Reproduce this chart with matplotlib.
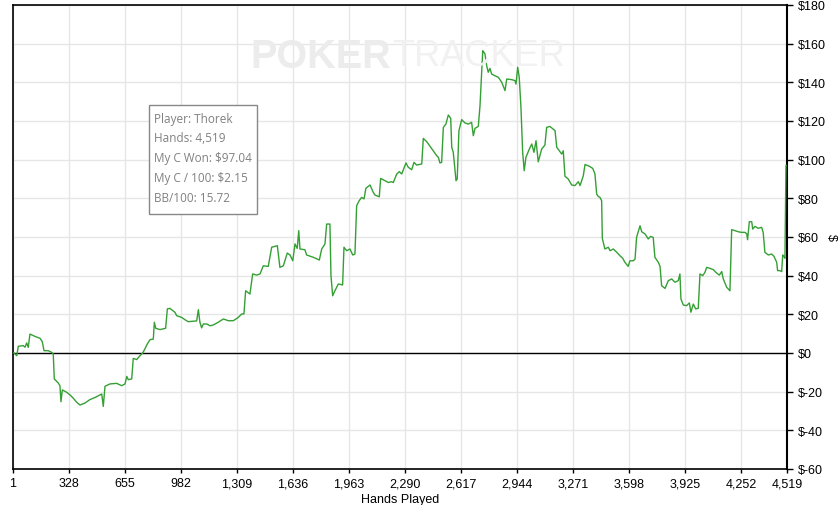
import matplotlib
matplotlib.use("Agg")
import matplotlib.pyplot as plt
from matplotlib.patches import Rectangle
from matplotlib.ticker import FuncFormatter

plt.rcParams['font.family'] = ['Liberation Sans', 'DejaVu Sans']

# hands played vs. cumulative winnings ($)
hands = [1, 7, 23, 32, 61, 71, 81, 90, 100, 129, 159, 172, 182, 207, 227, 236,
         242, 265, 275, 281, 289, 314, 334, 353, 373, 392, 421, 450, 480, 499,
         519, 528, 538, 567, 606, 635, 655, 665, 674, 694, 703, 723, 742, 758,
         771, 785, 801, 820, 826, 834, 859, 892, 902, 917, 947, 956, 986, 1005,
         1024, 1073, 1083, 1092, 1102, 1112, 1132, 1151, 1170, 1199, 1229, 1258,
         1287, 1316, 1336, 1349, 1359, 1384, 1400, 1423, 1443, 1462, 1491, 1511,
         1544, 1559, 1579, 1602, 1618, 1634, 1647, 1660, 1669, 1676, 1705, 1715,
         1754, 1789, 1803, 1822, 1832, 1851, 1857, 1867, 1880, 1900, 1925, 1933,
         1949, 1968, 1984, 1997, 2007, 2022, 2036, 2050, 2061, 2085, 2104, 2114,
         2139, 2147, 2172, 2192, 2211, 2221, 2241, 2256, 2270, 2295, 2308, 2328,
         2342, 2357, 2387, 2396, 2416, 2435, 2454, 2474, 2484, 2493, 2503, 2513,
         2528, 2542, 2556, 2562, 2571, 2587, 2594, 2604, 2620, 2639, 2659, 2678,
         2688, 2698, 2717, 2727, 2743, 2756, 2766, 2775, 2785, 2795, 2814, 2834,
         2854, 2873, 2883, 2912, 2931, 2937, 2947, 2956, 2966, 2976, 2985, 2995,
         3015, 3029, 3042, 3054, 3067, 3087, 3106, 3116, 3135, 3165, 3175, 3194,
         3204, 3213, 3223, 3242, 3262, 3281, 3301, 3311, 3330, 3340, 3365, 3385,
         3398, 3408, 3417, 3427, 3437, 3441, 3456, 3476, 3486, 3505, 3525, 3544,
         3560, 3573, 3592, 3602, 3622, 3632, 3641, 3661, 3671, 3690, 3709, 3723,
         3738, 3748, 3768, 3778, 3787, 3807, 3826, 3846, 3865, 3884, 3894, 3900,
         3914, 3933, 3949, 3958, 3972, 3986, 4001, 4011, 4027, 4040, 4050, 4069,
         4089, 4104, 4124, 4138, 4147, 4167, 4186, 4196, 4215, 4235, 4254, 4274,
         4284, 4289, 4299, 4313, 4319, 4332, 4351, 4371, 4380, 4390, 4410, 4429,
         4443, 4459, 4464, 4478, 4488, 4494, 4501, 4507, 4513, 4519]
won = [0, 0, -1.4, 3.5, 3.8, 3.0, 5.2, 2.9, 9.8, 8.6, 7.6, 5.8, 1.2, 1.2, 0.3, -0.5,
       -13.4, -15.5, -16.9, -25.2, -19.1, -20.3, -21.7, -23.4, -25.5, -26.9, -25.9,
       -24.1, -23.0, -22.1, -21.2, -27.6, -17.2, -16.0, -15.7, -16.9, -16.0, -12.1,
       -13.8, -13.4, -2.8, -3.4, -1.4, 0.0, 2.1, 4.7, 6.9, 7.2, 15.9, 12.8, 12.1,
       12.8, 22.8, 23.1, 21.0, 19.3, 18.4, 17.2, 16.2, 16.6, 22.4, 15.9, 13.0,
       15.0, 15.0, 14.1, 14.5, 15.9, 17.6, 16.7, 16.7, 18.4, 20.2, 20.2, 32.2,
       30.5, 40.9, 40.3, 40.9, 45.1, 44.8, 54.7, 55.5, 44.3, 45.1, 51.7, 50.7,
       47.7, 56.4, 54.1, 63.3, 53.8, 53.4, 50.7, 49.5, 48.1, 53.8, 56.4, 66.7,
       66.7, 40.0, 29.6, 32.2, 35.7, 35.2, 54.7, 52.9, 53.8, 50.7, 51.2, 76.2,
       78.8, 80.5, 79.7, 85.2, 86.9, 83.1, 81.7, 80.8, 90.3, 89.1, 88.2, 88.6,
       88.2, 92.6, 93.8, 92.6, 98.3, 96.1, 94.8, 98.6, 97.2, 97.8, 111.0, 109.3,
       106.9, 104.6, 102.1, 101.2, 98.3, 98.6, 116.7, 118.4, 123.1, 121.4, 106.4,
       103.8, 89.1, 90.0, 115.0, 120.7, 119.0, 118.4, 119.3, 112.4, 116.2, 117.2,
       127.9, 156.4, 154.7, 148.6, 145.2, 147.2, 144.3, 143.4, 142.6, 140.0,
       135.7, 141.7, 141.4, 140.9, 139.1, 147.8, 142.6, 127.1, 103.8, 94.3,
       101.2, 105.5, 108.1, 103.8, 109.8, 98.9, 105.5, 107.6, 116.7, 117.2, 115.0,
       106.4, 104.1, 102.9, 104.6, 91.4, 90.0, 86.9, 86.6, 88.6, 86.6, 91.7,
       97.5, 96.6, 95.5, 92.6, 82.2, 81.0, 80.5, 78.8, 59.3, 53.8, 54.7, 52.9,
       53.8, 52.1, 50.3, 49.0, 46.9, 44.8, 47.7, 47.7, 48.6, 59.8, 65.8, 62.7,
       61.6, 59.0, 60.3, 59.8, 49.5, 46.9, 44.8, 34.8, 33.4, 37.4, 38.3, 36.6,
       37.4, 40.9, 27.9, 24.8, 24.5, 25.9, 21.1, 25.3, 22.8, 23.1, 40.9, 40.0,
       41.7, 44.3, 43.8, 43.1, 41.7, 40.3, 42.1, 38.3, 34.0, 32.2, 63.8, 63.3,
       62.7, 62.4, 62.4, 61.6, 58.6, 67.9, 67.9, 64.1, 65.5, 64.5, 65.0, 62.4,
       52.1, 50.7, 51.2, 50.0, 46.9, 42.6, 42.6, 42.1, 50.7, 50.0, 49.0, 97.04,
       97.04]

x_ticks = [1, 328, 655, 982, 1309, 1636, 1963, 2290, 2617, 2944, 3271, 3598,
           3925, 4252, 4519]
y_ticks = [-60, -40, -20, 0, 20, 40, 60, 80, 100, 120, 140, 160, 180]
info_lines = ["Player: Thorek", "Hands: 4,519", "My C Won: $97.04",
              "My C / 100: $2.15", "BB/100: 15.72"]

fig = plt.figure(figsize=(8.4, 5.06), dpi=100)
ax = fig.add_axes([13 / 840, 36 / 506, 774 / 840, 464 / 506])

ax.set_xlim(1, 4519)
ax.set_ylim(-60, 180)
ax.set_xticks(x_ticks)
ax.set_xticklabels([f"{t:,}" for t in x_ticks])
ax.set_yticks(y_ticks)
ax.yaxis.tick_right()
ax.yaxis.set_label_position("right")
ax.yaxis.set_major_formatter(FuncFormatter(lambda v, p: f"${int(v)}"))
ax.tick_params(axis='both', labelsize=9, colors='black', length=4, width=1)
ax.tick_params(axis='x', length=3, pad=3)
ax.tick_params(axis='y', pad=4)

ax.grid(True, color='#e6e6e6', linewidth=1)
ax.set_axisbelow(True)
for side in ['left', 'top', 'bottom']:
    ax.spines[side].set_linewidth(1.2)
ax.spines['right'].set_linewidth(1.5)

ax.axhline(0, color='black', linewidth=1, zorder=2)
ax.plot(hands, won, color='#34a034', linewidth=1.0, zorder=3)

ax.set_xlabel("Hands Played", fontsize=9, labelpad=3)
ax.set_ylabel("$", fontsize=9, rotation=-90, labelpad=8)

# watermark
fig.text(250 / 840, 1 - 57 / 506, "POKER", fontsize=28.5, fontweight='bold',
         color='#ececec', va='center', ha='left', zorder=0)
fig.text(392 / 840, 1 - 57 / 506, "TRACKER", fontsize=26,
         color='#f1f1f1', va='center', ha='left', zorder=0)

# info box
box = Rectangle((149 / 840, 1 - 215 / 506), 108 / 840, 109 / 506,
                transform=fig.transFigure, facecolor='white',
                edgecolor='#888888', linewidth=1, zorder=5)
fig.patches.append(box)
for i, line in enumerate(info_lines):
    fig.text(154 / 840, 1 - (119 + 20 * i) / 506, line, fontsize=8.5,
             color='#808080', va='center', ha='left', zorder=6,
             family=['Open Sans', 'DejaVu Sans'])

fig.savefig("out.png", dpi=100)
